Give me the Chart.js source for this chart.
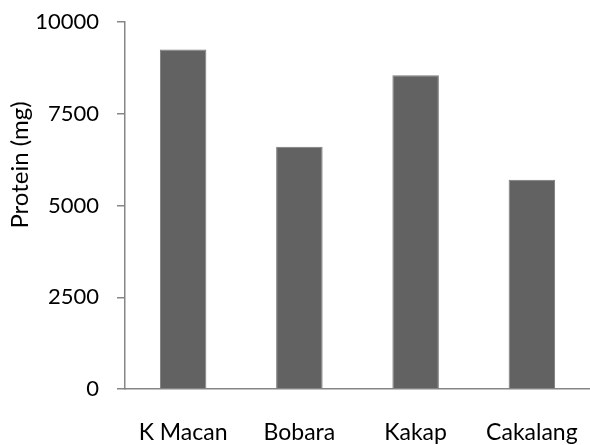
<!DOCTYPE html>
<html>
<head>
<meta charset="utf-8">
<script src="https://cdn.jsdelivr.net/npm/chart.js@4/dist/chart.umd.min.js"></script>
<style>
  html, body { margin: 0; padding: 0; background: #fff; }
  #wrap { width: 590px; height: 445px; position: relative; }
</style>
</head>
<body>
<div id="wrap"><canvas id="grafico"></canvas></div>
<script>
// Datos
const kategori = ["K Macan", "Bobara", "Kakap", "Cakalang"];
const protein = [9250, 6600, 8550, 5700];
const yTicks = [0, 2500, 5000, 7500, 10000];
const yTitle = "Protein (mg)";

const fuente = "Lato, 'Open Sans', sans-serif";

// titulo del eje Y dibujado a mano (posicion como en el original)
const tituloY = {
  id: "tituloY",
  afterDraw(chart) {
    const ctx = chart.ctx;
    ctx.save();
    ctx.translate(20, 165);
    ctx.rotate(-Math.PI / 2);
    ctx.font = "24px " + fuente;
    ctx.fillStyle = "#000";
    ctx.textAlign = "center";
    ctx.textBaseline = "middle";
    ctx.fillText(yTitle, 0, 0);
    ctx.restore();
  }
};

new Chart(document.getElementById("grafico"), {
  type: "bar",
  data: {
    labels: kategori,
    datasets: [{
      data: protein,
      backgroundColor: "#626262",
      borderColor: "#7a7a7a",
      borderWidth: 1,
      barPercentage: 0.4,
      categoryPercentage: 1
    }]
  },
  options: {
    responsive: true,
    maintainAspectRatio: false,
    animation: false,
    layout: { padding: { top: 22, right: 0, left: 0, bottom: 0 } },
    plugins: { legend: { display: false }, tooltip: { enabled: false } },
    scales: {
      x: {
        grid: { display: false },
        border: { color: "#868686", width: 1.5 },
        ticks: { color: "#000", font: { family: fuente, size: 23 }, padding: 22 },
        afterFit(s) { s.height = 56; s.paddingLeft = 0; s.paddingRight = 0; }
      },
      y: {
        min: 0,
        max: 10000,
        afterBuildTicks(s) { s.ticks = yTicks.map(v => ({ value: v })); },
        grid: { drawOnChartArea: false, color: "#868686", tickLength: 8, lineWidth: 1.5 },
        border: { color: "#868686", width: 1.5 },
        ticks: {
          color: "#000", font: { family: fuente, size: 22 }, padding: 18,
          callback: v => String(v)
        },
        afterFit(s) { s.width = 125; s.paddingTop = 0; s.paddingBottom = 0; }
      }
    }
  },
  plugins: [tituloY]
});
</script>
</body>
</html>
